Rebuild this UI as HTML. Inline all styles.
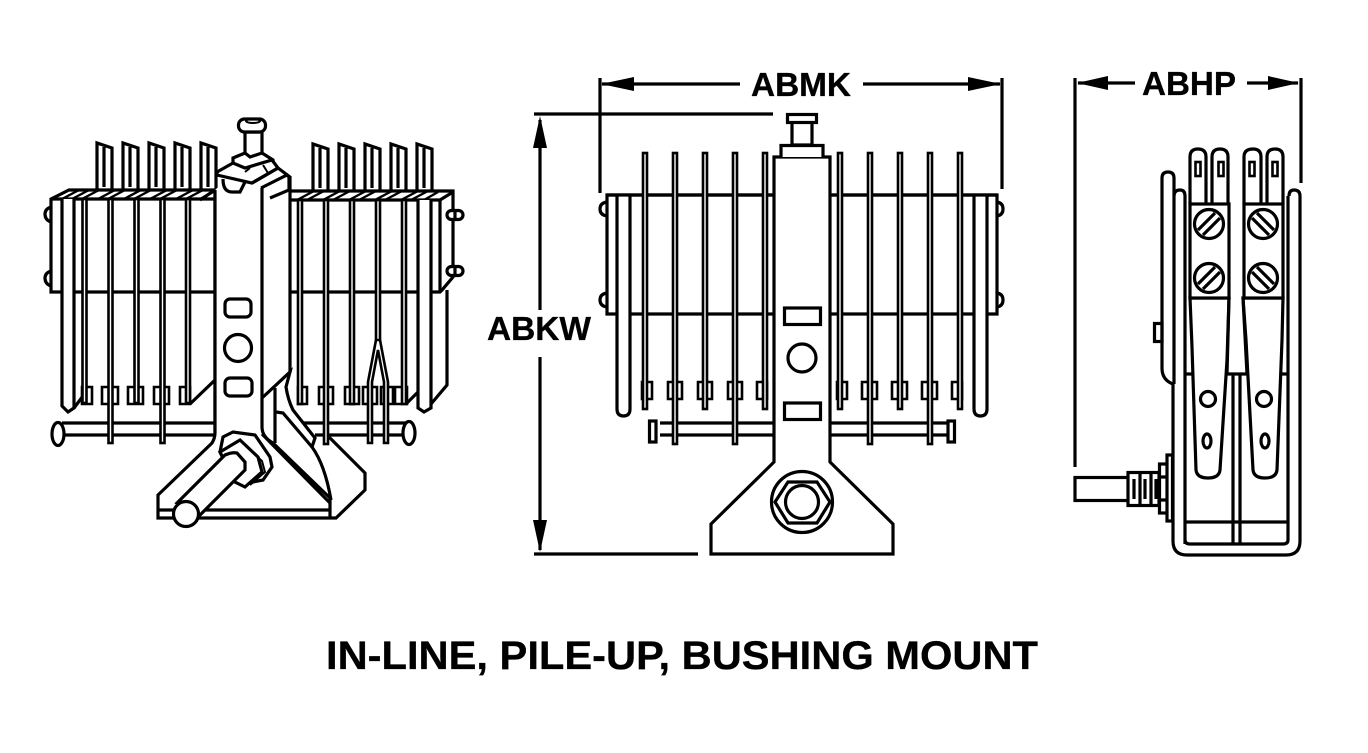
<!DOCTYPE html>
<html><head><meta charset="utf-8"><style>
html,body{margin:0;padding:0;background:#fff;width:1368px;height:753px;overflow:hidden}
svg{display:block}
text{font-family:"Liberation Sans",sans-serif;font-weight:bold;fill:#000;stroke:#000;stroke-width:.3}
.s{fill:#fff;stroke:#000;stroke-width:2.6}
.n{fill:none;stroke:#000;stroke-width:3.2}
.t{fill:#fff;stroke:#000;stroke-width:3.2}
.c{shape-rendering:crispEdges}
</style></head><body>
<svg width="1368" height="753" viewBox="0 0 1368 753" xmlns="http://www.w3.org/2000/svg" stroke-linejoin="miter">
<defs>
<path id="term" class="t" d="M0 47V0L15 5V47M7 4V44"/>
</defs>

<!-- LEFT DRAWING -->
<g>
<!-- rods -->
<path class="n" d="M62 423H215M62 435H215M297 423H407M315 435H407"/>
<ellipse class="t" cx="58" cy="434" rx="6" ry="11.5"/>
<ellipse class="t" cx="409" cy="433" rx="6" ry="11.5"/>
<!-- terminals L -->
<use href="#term" x="97" y="143"/><use href="#term" x="123" y="143"/><use href="#term" x="149" y="143"/><use href="#term" x="175" y="143"/><use href="#term" x="201" y="143"/>
<!-- terminals R -->
<use href="#term" x="313" y="144"/><use href="#term" x="339" y="144"/><use href="#term" x="365" y="144"/><use href="#term" x="391" y="144"/><use href="#term" x="417" y="144"/>
<!-- bolts -->
<path class="n" d="M51 207Q45 209 45 214Q45 220 51 222M51 271Q45 273 45 278Q45 284 51 286"/>
<!-- left block -->
<path class="t" d="M51 199L69 190H215V292H51Z"/>
<path class="n" d="M51 199H215" stroke-width="3.400"/>
<path class="n" style="stroke-width:2.4" d="M62 199L79 190M72 199L89 190M82 199L99 190M98 199L115 190M108 199L125 190M124 199L141 190M134 199L151 190M150 199L167 190M160 199L177 190M176 199L193 190M186 199L203 190M200 199L215 191"/>
<!-- right block -->
<path class="t" d="M271 200L290 191H453V277L442 290L440 292H271Z"/>
<path class="n" d="M271 200H440V292M440 200L453 192"/>
<path class="n" style="stroke-width:2.4" d="M297 200L314 191M307 200L324 191M323 200L340 191M333 200L350 191M349 200L366 191M359 200L376 191M375 200L392 191M385 200L402 191M401 200L418 191M411 200L428 191M424 200L438 192"/>
<rect class="t" x="447" y="210.500" width="16" height="9" rx="4.500"/>
<rect class="t" x="447" y="266.500" width="16" height="9" rx="4.500"/>
<path class="n" d="M455 210V219M455 266V275"/>
<!-- thick plates -->
<path class="t" d="M62 199V406L68 412L74 408V199"/>
<path class="n" d="M447 290V385L431 404"/>
<path class="t" d="M418 200V408L424 412L431 408V200"/>
<path class="n" d="M74 408L83 396"/>
<path class="n" d="M407 403L418 392"/>
<path class="n" d="M190 404L215 380"/>
<path class="n" d="M289 292V372M215 292V433"/>
<!-- left tabs and strips -->
<path class="s" d="M82 387H92V404H82ZM102 387H118V404H102ZM128 387H143V404H128ZM154 387H169V404H154ZM180 387H190V404H180Z"/>
<rect class="s" x="82.500" y="199" width="4" height="204"/>
<rect class="s" x="108.500" y="199" width="4" height="244"/>
<rect class="s" x="134.500" y="199" width="4" height="204"/>
<rect class="s" x="160.500" y="199" width="4" height="244"/>
<rect class="s" x="186" y="199" width="4" height="204"/>
<!-- right tabs and strips -->
<path class="s" d="M298 387H307V404H298ZM319 387H333V404H319ZM345 387H359V404H345ZM363 387H377V404H363ZM381 387H395V404H381ZM393 387H407V404H393Z"/>
<rect class="s" x="298" y="200" width="4" height="204"/>
<rect class="s" x="324" y="200" width="4" height="244"/>
<rect class="s" x="350" y="200" width="4" height="204"/>
<rect class="s" x="376" y="200" width="4" height="142"/>
<rect class="s" x="402" y="200" width="4" height="204"/>
<path class="s" d="M376 340L368 382V443H372V382L378 350L384 382V443H388V382L380 340Z"/>
<!-- column -->
<path d="M215 190L232 175L272 170L290 177V372L286 387Q288 400 293 410L315 438L312 447Q325 465 331 500V518H158V495L212 443Q215 438 215 433Z" fill="#fff"/>
<path class="n" d="M215 433Q215 438 212 443L158 495V518H336L365 490V473L329 437"/>
<path class="n" d="M158 510H330V518M330 498V518"/>
<path class="n" d="M215 190V433"/>
<path class="n" d="M200 200L215 190"/>
<!-- bolt -->
<path class="t" d="M245 132H262V156L252 158L245 154Z"/>
<rect class="t" x="238.500" y="119" width="27" height="13" rx="6"/>
<ellipse class="n" cx="253" cy="121" rx="7" ry="2" style="stroke-width:2"/>
<!-- bracket -->
<path class="t" d="M233 163V158L245 153L250 157L262 153L273 160L274 168L252 177Z"/>
<path class="t" d="M217 172L233 163L245 168L272 160L278 168L252 183L217 175Z"/>
<path class="n" d="M223 179Q223 192 232 192H240L245 182"/>
<path class="n" d="M245 172L250 168M263 165L268 173" style="stroke-width:2"/>
<path class="n" d="M252 183L278 168L290 177V372"/>
<path class="t" d="M261 188L287 175L289 177V190L270 198"/>
<path class="n" d="M262 188V427Q262 437 273 443"/>
<path class="n" d="M275 388V443"/>
<path class="n" d="M262 398L290 372L286 387Q288 400 293 410L315 438L312 447Q325 465 331 500"/>
<path class="n" d="M276 412L283 413L312 447"/>
<path class="n" d="M273 443L330 498M262 434L330 503"/>
<!-- holes -->
<rect class="n" x="225" y="299" width="26" height="18" rx="5"/>
<circle class="n" cx="238" cy="348" r="13.500"/>
<rect class="n" x="225" y="378" width="27" height="18" rx="5"/>
<!-- nut and shaft -->
<path class="t" d="M220 452L223 437L233 432L255 435L270 457L272 467L263 480L248 483L235 482Z"/>
<path class="t" d="M220 452L240 440L258 457L262 472L245 487L235 482Z"/>
<path class="n" d="M243 443L262 461L265 472L250 485" style="stroke-width:2"/>
<path class="t" d="M177 503L225 455Q232 452 237 453L245 462V470L200 515Z"/>
<circle class="t" cx="186" cy="514" r="12.500"/>
</g>

<!-- MIDDLE DRAWING -->
<g>
<path class="n" d="M660 423H950M660 435H950"/>
<rect class="t" x="649.500" y="421" width="6.500" height="21"/>
<rect class="t" x="948" y="421" width="6.500" height="21"/>
<path class="n" d="M607 202Q600 203 600 209Q600 215 607 216M607 293Q600 294 600 300Q600 306 607 307M997 202Q1003 203 1003 209Q1003 215 997 216M997 293Q1003 294 1003 300Q1003 306 997 307"/>
<path class="t" d="M607 195H997V314H607Z"/>
<!-- U plates -->
<path class="t" d="M617 195V409Q617 416 623.500 416Q630 416 630 409V195"/>
<path class="t" d="M974 195V409Q974 416 980.500 416Q987 416 987 409V195"/>
<path class="n" d="M607 195H997"/>
<!-- tabs -->
<path class="s" d="M642 382H652V399H642ZM668 382H682V399H668ZM698 382H712V399H698ZM728 382H742V399H728ZM757 382H767V399H757ZM837 382H847V399H837ZM862 382H877V399H862ZM892 382H907V399H892ZM922 382H937V399H922ZM952 382H962V399H952Z"/>
<!-- strips -->
<rect class="s" x="643" y="153" width="4" height="256"/>
<rect class="s" x="673" y="153" width="4" height="291"/>
<rect class="s" x="703" y="153" width="4" height="256"/>
<rect class="s" x="733" y="153" width="4" height="291"/>
<rect class="s" x="763" y="153" width="4" height="256"/>
<rect class="s" x="838" y="153" width="4" height="256"/>
<rect class="s" x="868" y="153" width="4" height="291"/>
<rect class="s" x="898" y="153" width="4" height="256"/>
<rect class="s" x="928" y="153" width="4" height="291"/>
<rect class="s" x="958" y="153" width="4" height="256"/>
<!-- column -->
<path class="t" d="M774 462V157H830V462L893 524V554H711V524Z"/>
<path class="t" d="M792 122H812V145H792Z"/>
<rect class="t" x="787.500" y="114.500" width="29" height="8"/>
<path class="t" d="M781 157V145.500H823V157"/>
<rect class="t" x="784.500" y="308" width="36" height="16.500"/>
<circle class="n" cx="802" cy="358" r="14"/>
<rect class="t" x="784.500" y="403" width="36" height="16.500"/>
<circle class="n" cx="802" cy="502" r="30.500"/>
<path class="n" d="M775 502L788 482H817L830 502L817 523H788Z"/>
<circle class="n" cx="802" cy="502" r="16.500"/>
</g>

<!-- RIGHT DRAWING -->
<g>
<rect class="t" x="1154.500" y="323.500" width="7.500" height="18"/>
<path class="n" d="M1162 178Q1162 172 1168 172Q1174 172 1174 178V384M1162 178V368Q1162 380 1173 384"/>
<path class="n" d="M1174 196Q1174 190 1180 190Q1185 190 1185 196V544M1289 196Q1289 190 1294 190Q1300 190 1300 196V541Q1300 555 1286 555H1187Q1173 555 1173 541V384"/>
<path class="n" d="M1185 540Q1185 544 1190 544H1283Q1288 544 1288 540V196"/>
<path class="n" d="M1185 522H1288M1233 375V544M1240 375V544M1185 374H1192M1226 374H1247M1280 374H1288"/>
<!-- lugs -->
<path class="t" d="M1190 204V157Q1190 149 1198 149Q1206 149 1206 157V204"/>
<path class="t" d="M1212 204V157Q1212 149 1220 149Q1228 149 1228 157V204"/>
<path class="t" d="M1244 204V157Q1244 149 1253 149Q1261 149 1261 157V204"/>
<path class="t" d="M1267 204V157Q1267 149 1275 149Q1283 149 1283 157V204"/>
<rect class="s" x="1195.500" y="162" width="5" height="14"/>
<rect class="s" x="1218.500" y="162" width="5" height="14"/>
<rect class="s" x="1249.500" y="162" width="5" height="14"/>
<rect class="s" x="1272.500" y="162" width="5" height="14"/>
<!-- blades -->
<path class="t" d="M1190 298L1192 347L1196 470Q1197 478 1208 478Q1219 478 1220 470L1227 360L1229 298Z"/>
<path class="t" d="M1243 298L1246 340L1253 470Q1254 478 1265 478Q1276 478 1277 470L1282 340L1283 298Z"/>
<path class="n" d="M1229 298L1227 374M1243 298L1247 374"/>
<!-- blocks -->
<rect class="t" x="1190" y="204" width="39" height="94"/>
<rect class="t" x="1244" y="204" width="39" height="94"/>
<circle class="n" cx="1209" cy="224" r="14.500"/><circle class="n" cx="1209" cy="278" r="14.500"/>
<circle class="n" cx="1263" cy="224" r="14.500"/><circle class="n" cx="1263" cy="278" r="14.500"/>
<path class="n" d="M1198 230L1215 213M1203 235L1220 218M1198 284L1215 267M1203 289L1220 272"/>
<path class="n" d="M1257 213L1274 230M1252 218L1269 235M1257 267L1274 284M1252 272L1269 289"/>
<circle class="n" cx="1208" cy="399" r="7.500"/><circle class="n" cx="1264" cy="399" r="7.500"/>
<ellipse class="n" cx="1207" cy="441" rx="4" ry="7"/><ellipse class="n" cx="1265" cy="441" rx="4" ry="7"/>
<!-- bushing -->
<rect class="t" x="1075" y="477.500" width="54" height="23"/>
<rect class="t" x="1128" y="472.500" width="31" height="33"/>
<path class="n" d="M1140 472V506M1151 472V506"/>
<path class="n" d="M1134 479V499M1145 479V499M1156 479V499"/>
<rect class="t" x="1159.500" y="464" width="8" height="49"/>
<path class="n" d="M1159 477H1167M1159 500H1167"/>
<rect class="t" x="1167" y="455" width="5.500" height="66"/>
</g>

<!-- DIMENSIONS -->
<g>
<path class="n" d="M600 78V193M1002 78V189M534 114H773M534 554H698M1075 78V467M1301 78V183"/>
<path class="n" d="M602 84H740M863 84H1000M540 120V310M540 357V550M1078 83H1135M1247 83H1298"/>
<path d="M601 84L634 77V91ZM1001 84L968 77V91ZM540 116L533 148H547ZM540 552L533 520H547ZM1077 83L1108 76V90ZM1299 83L1268 76V90Z"/>
</g>
<text x="751" y="96" font-size="33" textLength="100" lengthAdjust="spacingAndGlyphs">ABMK</text>
<text x="1142" y="95" font-size="33" textLength="94" lengthAdjust="spacingAndGlyphs">ABHP</text>
<text x="487" y="340" font-size="33" textLength="104" lengthAdjust="spacingAndGlyphs">ABKW</text>
<text x="326" y="669" font-size="40" textLength="712" lengthAdjust="spacingAndGlyphs">IN-LINE, PILE-UP, BUSHING MOUNT</text>
</svg>
</body></html>
